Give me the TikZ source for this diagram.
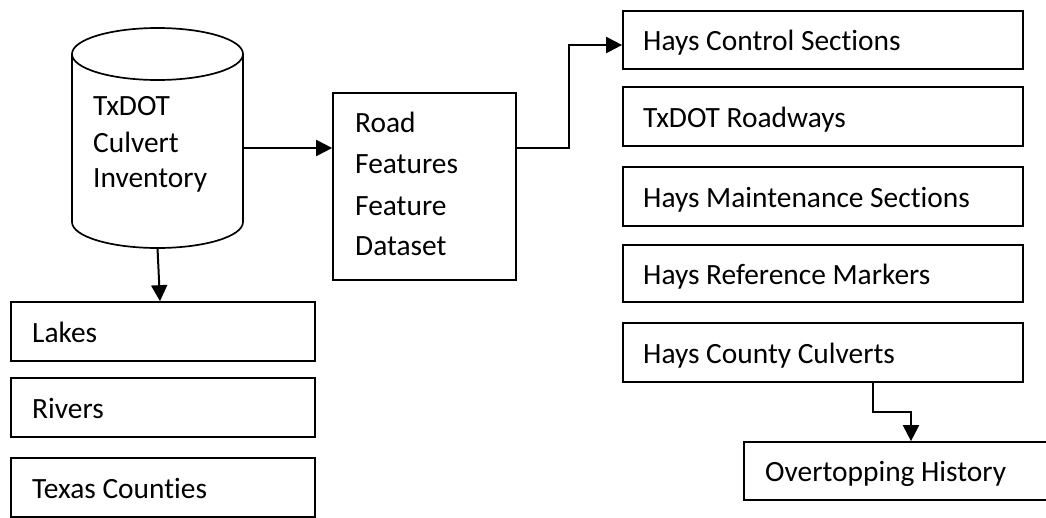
\documentclass[tikz,border=0pt]{standalone}
\usepackage{fontspec}
\setmainfont[Ligatures={NoCommon}]{Carlito}
\usetikzlibrary{arrows.meta,calc}
\begin{document}
\begin{tikzpicture}[x=1pt,y=-1pt,
  every node/.style={font=\fontsize{29.4}{36}\selectfont},
  box/.style={draw,line width=1.7pt,rectangle,inner xsep=0pt,inner ysep=0pt,align=left},
  conn/.style={line width=2pt},
  arr/.style={conn,-{Triangle[length=16pt,width=16pt]}},
  lbl/.style={inner sep=0pt,anchor=base west,align=left}]
\clip (0,0) rectangle (1046,517);
\fill[white] (0,0) rectangle (1046,517);
% cylinder
\node[minimum width=171,minimum height=168,inner sep=0pt] (db) at (157.5,138) {};
\draw[line width=1.7pt] (72,54) -- (72,222) arc[start angle=180,end angle=360,x radius=85.5,y radius=-26] -- (243,54)
  arc[start angle=0,end angle=180,x radius=85.5,y radius=-26] arc[start angle=180,end angle=360,x radius=85.5,y radius=-26];
\node[lbl] (dbt) at (93,115) {TxDOT};
\node[lbl] (dbt2) at (93,152) {Culvert};
\node[lbl] (dbt3) at (93,187) {Inventory};
% road features
\node[box,minimum width=183,minimum height=187] (road) at (424.5,186.5) {};
\node[lbl] at (355,132) {Road};
\node[lbl] at (355,173) {Features};
\node[lbl] at (355,215) {Feature};
\node[lbl] at (355,255) {Dataset};
% right boxes
\node[box,minimum width=400,minimum height=58] (hcs) at (823,40) {};
\node[lbl] at (643,50) {Hays Control Sections};
\node[box,minimum width=400,minimum height=59] (txr) at (823,116.5) {};
\node[lbl] at (643,127) {TxDOT Roadways};
\node[box,minimum width=400,minimum height=59] (hms) at (823,196.5) {};
\node[lbl] at (643,207) {Hays Maintenance Sections};
\node[box,minimum width=400,minimum height=57] (hrm) at (823,273.5) {};
\node[lbl] at (643,284) {Hays Reference Markers};
\node[box,minimum width=400,minimum height=59] (hcc) at (823,352.5) {};
\node[lbl] at (643,363) {Hays County Culverts};
\node[box,minimum width=320,minimum height=58] (ot) at (904,471) {};
\node[lbl] at (765,481) {Overtopping History};
% left boxes
\node[box,minimum width=304,minimum height=59] (lakes) at (163,331.5) {};
\node[lbl] at (32,342) {Lakes};
\node[box,minimum width=304,minimum height=59] (rivers) at (163,407.5) {};
\node[lbl] at (32,418) {Rivers};
\node[box,minimum width=304,minimum height=59] (tc) at (163,487.5) {};
\node[lbl] at (32,498) {Texas Counties};
% connectors
\draw[arr] (db.east |- 0,148) -- (road.west |- 0,148);
\draw[arr] (road.east |- 0,148) -- (569,148) -- (569,45) -- (hcs.west |- 0,45);
\draw[arr] (157.5,248) -- (lakes.north -| 160,0);
\draw[arr] (hcc.south -| 873,0) -- (873,412) -- (911,412) -- (ot.north -| 911,0);
\end{tikzpicture}
\end{document}
